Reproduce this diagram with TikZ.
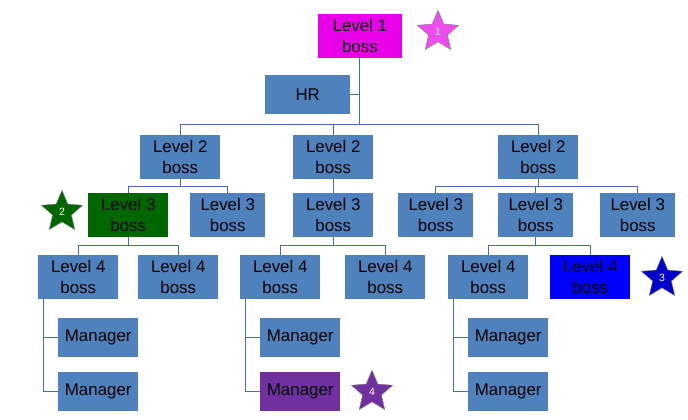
\documentclass[tikz,border=0pt]{standalone}
\usepackage{fontspec}
\setmainfont{Liberation Sans}
\usetikzlibrary{shapes.geometric}
\definecolor{boxblue}{RGB}{79,129,189}
\definecolor{linec}{RGB}{70,110,170}
\definecolor{bossmag}{RGB}{232,0,232}
\definecolor{mgrpurple}{RGB}{112,48,160}

\begin{document}
\begin{tikzpicture}[x=0.03cm,y=-0.03cm]
      \tikzstyle{unit}=[fill=boxblue,minimum width=2.4cm,minimum height=1.3cm,inner sep=0pt,align=center,font=\Large,text=black,anchor=north west]
      \tikzstyle{wide}=[unit,minimum width=2.55cm]
      \tikzstyle{mgr}=[unit,minimum height=1.15cm]
      \tikzstyle{badge}=[star,star points=5,star point ratio=2.2,minimum size=1.3cm,inner sep=0pt,draw=gray,text=white,font=\small]
      \tikzstyle{link}=[draw=linec,line width=0.9pt]
      \useasboundingbox (0,0) rectangle (688,420);

      % Top of the tree
      \node[unit,fill=bossmag,minimum width=2.5cm] (L1) at (318,14) {Level 1\\boss};
      \node[badge,fill=bossmag!70] (S1) at (438,32) {1};
      \node[wide,minimum height=1.15cm] (HR) at (265,75) {HR};

      % Level 2
      \foreach \name / \x in {a/140,b/293,c/498}
          \node[unit] (L2\name) at (\x,135) {Level 2\\boss};

      % Level 3
      \node[unit,fill=green!40!black] (L3a) at (88,193) {Level 3\\boss};
      \node[unit] (L3c) at (293,193) {Level 3\\boss};
      \foreach \name / \x in {b/190,d/398,e/498,f/600}
          \node[unit,minimum width=2.25cm] (L3\name) at (\x,193) {Level 3\\boss};
      \node[badge,fill=green!40!black] (S2) at (62,212) {2};

      % Level 4
      \foreach \name / \x in {a/38,b/138,c/240,d/345,e/448}
          \node[unit] (L4\name) at (\x,255) {Level 4\\boss};
      \node[unit,fill=blue] (L4f) at (550,255) {Level 4\\boss};
      \node[badge,fill=blue!80!black] (S3) at (662,278) {3};

      % Managers
      \foreach \name / \x in {a/58,c/260,e/468}
          \node[mgr] (M\name1) at (\x,318) {Manager};
      \node[mgr] (Ma2) at (58,372) {Manager};
      \node[mgr,fill=mgrpurple] (Mc2) at (260,372) {Manager};
      \node[mgr] (Me2) at (468,372) {Manager};
      \node[badge,fill=mgrpurple] (S4) at (372,392) {4};

      % Connections
      \draw[link] (L1.south) -- ++(0,67) coordinate (top);
      \draw[link] (HR.east) -| (top);
      \draw[link] (L2a.north) |- (top) -| (L2c.north);
      \draw[link] (L2b.north) -- (L2b.north |- top);
      \draw[link] (L2a.south) -- ++(0,8) coordinate (ba);
      \draw[link] (L3a.north) |- (ba) -| (L3b.north);
      \draw[link] (L2b.south) -- (L3c.north);
      \draw[link] (L2c.south) -- ++(0,8) coordinate (bc);
      \draw[link] (L3d.north) |- (bc) -| (L3f.north);
      \draw[link] (L3e.north) -- (L3e.north |- bc);
      \draw[link] (L3a.south) -- ++(0,9) coordinate (ca);
      \draw[link] (L4a.north) |- (ca) -| (L4b.north);
      \draw[link] (L3c.south) -- ++(0,9) coordinate (cc);
      \draw[link] (L4c.north) |- (cc) -| (L4d.north);
      \draw[link] (L3e.south) -- ++(0,9) coordinate (ce);
      \draw[link] (L4e.north) |- (ce) -| (L4f.north);
      \foreach \name in {a,c,e}
          \draw[link] ([xshift=5]L4\name.south west) |- (M\name2.west)
              ([xshift=5]L4\name.south west) |- (M\name1.west);
\end{tikzpicture}
\end{document}
